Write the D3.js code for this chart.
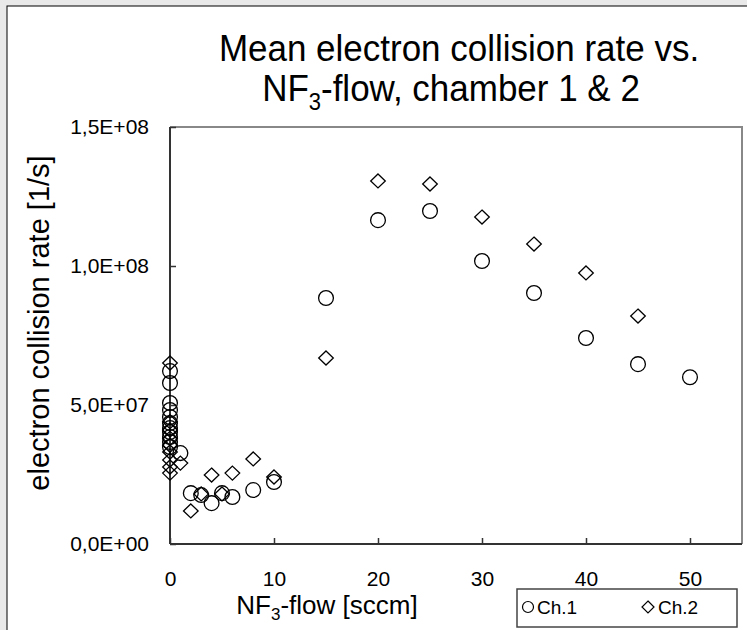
<!DOCTYPE html>
<html><head><meta charset="utf-8">
<script src="https://cdn.jsdelivr.net/npm/d3@7/dist/d3.min.js"></script>
<style>
html,body{margin:0;padding:0;background:#e9e9e9;}
svg{display:block;font-family:"Liberation Sans",Arial,sans-serif;}
</style></head>
<body>
<svg id="chart" width="747" height="630"></svg>
<script>
// ---- data ----
const ch1X = [0,0,0,0,0,0,0,0,0,0,0, 1,2,3,4,5,6,8,10,15,20,25,30,35,40,45,50];
const ch1Y = [0.622e8,0.579e8,0.507e8,0.482e8,0.457e8,0.435e8,0.417e8,0.403e8,0.385e8,0.367e8,0.349e8,
              0.327e8,0.183e8,0.176e8,0.147e8,0.183e8,0.169e8,0.194e8,0.223e8,0.885e8,1.165e8,1.198e8,1.018e8,0.903e8,0.741e8,0.647e8,0.600e8];
const ch2X = [0,0,0,0,0,0,0,0,0, 1,2,3,4,5,6,8,10,15,20,25,30,35,40,45];
const ch2Y = [0.651e8,0.440e8,0.410e8,0.380e8,0.355e8,0.331e8,0.302e8,0.277e8,0.255e8,
              0.291e8,0.119e8,0.180e8,0.248e8,0.180e8,0.255e8,0.306e8,0.241e8,0.669e8,1.306e8,1.295e8,1.176e8,1.079e8,0.975e8,0.820e8];
const xTicks = [0,10,20,30,40,50];
const yTicks = [0,5e7,1e8,1.5e8];
const yTickLabels = ["0,0E+00","5,0E+07","1,0E+08","1,5E+08"];
const seriesNames = ["Ch.1","Ch.2"];
const titleLines = ["Mean electron collision rate vs.", "chamber 1 & 2"];

// ---- layout ----
const svg = d3.select("#chart");
const L = 170, R = 742, T = 127, B = 544;
const x = d3.scaleLinear().domain([0,55]).range([L,R]);
const y = d3.scaleLinear().domain([0,1.5e8]).range([B,T]);

// chart area background with frame
svg.append("rect").attr("x",7).attr("y",6).attr("width",760).attr("height",640)
  .attr("fill","#fff").attr("stroke","#000").attr("stroke-width",1);

// title
const title = svg.append("g").attr("fill","#000").attr("font-size",35).attr("text-anchor","middle");
title.append("text").attr("transform","translate(459,61) scale(1,1.08)").text(titleLines[0]);
const t2 = title.append("text").attr("transform","translate(451,101) scale(1,1.08)");
t2.append("tspan").text("NF");
t2.append("tspan").attr("font-size",22).attr("dy",8).text("3");
t2.append("tspan").attr("dy",-8).text("-flow, " + titleLines[1]);

// frame (top/right)
svg.append("path").attr("d",`M${L},${T}H${R}V${B}`).attr("fill","none")
  .attr("stroke","#888").attr("stroke-width",2);

// axes
const xAxis = d3.axisBottom(x).tickValues(xTicks).tickSize(-6).tickPadding(27).tickFormat(d3.format("d"));
const gx = svg.append("g").attr("transform",`translate(0,${B})`).call(xAxis);
gx.select(".domain").attr("stroke","#333").attr("stroke-width",2).attr("d",`M${L},0H${R}`);
gx.selectAll(".tick line").attr("stroke","#333").attr("stroke-width",1.5);
gx.selectAll(".tick text").attr("font-size",21).attr("fill","#000").attr("font-family","Liberation Sans, Arial");

const yAxis = d3.axisLeft(y).tickValues(yTicks).tickSize(-6).tickPadding(21)
  .tickFormat((d,i)=>yTickLabels[i]);
const gy = svg.append("g").attr("transform",`translate(${L},0)`).call(yAxis);
gy.select(".domain").attr("stroke","#333").attr("stroke-width",2).attr("d",`M0,${T}V${B}`);
gy.selectAll(".tick line").attr("stroke","#333").attr("stroke-width",1.5);
gy.selectAll(".tick text").attr("font-size",21).attr("fill","#000").attr("font-family","Liberation Sans, Arial");

// axis titles
const xt = svg.append("text").attr("x",327).attr("y",614).attr("text-anchor","middle")
  .attr("font-size",26).attr("fill","#000");
xt.append("tspan").text("NF");
xt.append("tspan").attr("font-size",17).attr("dy",6).text("3");
xt.append("tspan").attr("dy",-6).text("-flow [sccm]");

svg.append("text").attr("transform",`translate(49,323) rotate(-90)`)
  .attr("text-anchor","middle").attr("font-size",29).attr("fill","#000")
  .text("electron collision rate [1/s]");

// markers
const plot = svg.append("g");
const ch1 = ch1X.map((d,i)=>({x:d,y:ch1Y[i]}));
const ch2 = ch2X.map((d,i)=>({x:d,y:ch2Y[i]}));
const diamond = (s,h)=>`M0,${-h}L${s},0L0,${h}L${-s},0Z`;
plot.selectAll("path.d2").data(ch2).join("path").attr("class","d2")
  .attr("transform",d=>`translate(${x(d.x)},${y(d.y)})`)
  .attr("d",diamond(7.3,7))
  .attr("fill","none").attr("stroke","#000").attr("stroke-width",1.3);
plot.selectAll("circle.c1").data(ch1).join("circle").attr("class","c1")
  .attr("cx",d=>x(d.x)).attr("cy",d=>y(d.y)).attr("r",7.4)
  .attr("fill","none").attr("stroke","#000").attr("stroke-width",1.3);

// legend
const lg = svg.append("g");
lg.append("rect").attr("x",517).attr("y",589).attr("width",220).attr("height",38)
  .attr("fill","#fff").attr("stroke","#444").attr("stroke-width",1.5);
lg.append("circle").attr("cx",528).attr("cy",607).attr("r",5.5)
  .attr("fill","none").attr("stroke","#000").attr("stroke-width",1.2);
lg.append("text").attr("x",537).attr("y",614).attr("font-size",19).text(seriesNames[0]);
lg.append("path").attr("transform","translate(648,607)").attr("d",diamond(6,6))
  .attr("fill","none").attr("stroke","#000").attr("stroke-width",1.2);
lg.append("text").attr("x",658).attr("y",614).attr("font-size",19).text(seriesNames[1]);
</script>
</body></html>
